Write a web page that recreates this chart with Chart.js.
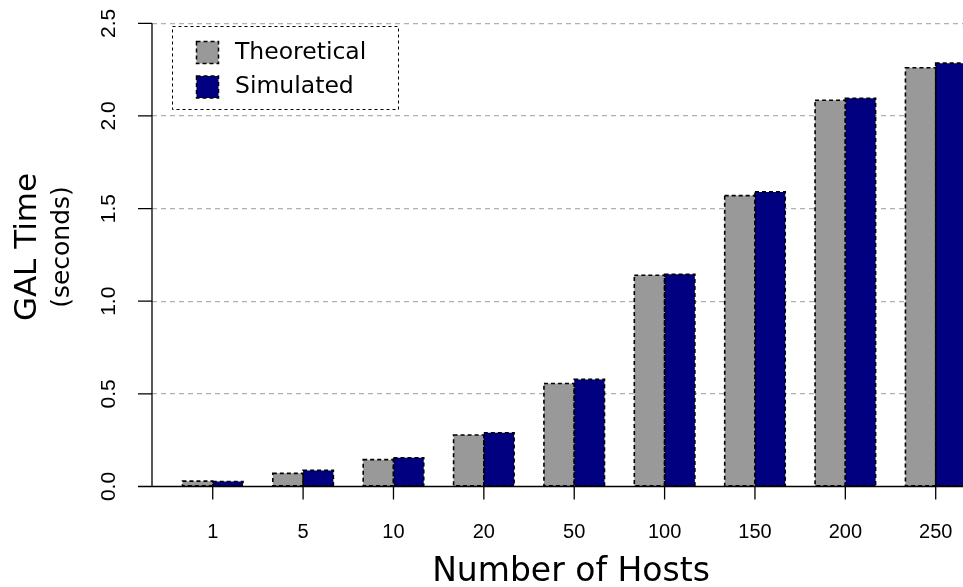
<!DOCTYPE html>
<html>
<head>
<meta charset="utf-8">
<title>GAL Time vs Number of Hosts</title>
<script src="https://cdn.jsdelivr.net/npm/chart.js@4.4.1/dist/chart.umd.min.js"></script>
<style>
  html, body { margin: 0; padding: 0; background: #ffffff; }
  canvas { display: block; }
</style>
</head>
<body>
<canvas id="chart" width="963" height="587"></canvas>
<script>
// Number of hosts (x categories)
const hosts = ['1', '5', '10', '20', '50', '100', '150', '200', '250'];
// GAL time in seconds
const theoretical = [0.029, 0.071, 0.145, 0.278, 0.556, 1.14, 1.57, 2.085, 2.26];
const simulated   = [0.027, 0.087, 0.155, 0.290, 0.578, 1.145, 1.59, 2.095, 2.285];
// Value axis range and step
const yMin = 0;
const yMax = 2.5;
const yStep = 0.5;

const GRAY = '#999999';
const NAVY = '#000080';
const TICK_FONT = '"Liberation Sans", Arial, sans-serif';
const TITLE_FONT = '"DejaVu Sans", sans-serif';

const toPoints = vals => vals.map((v, i) => ({ x: i, y: v }));

// Axes, dashed bar outlines, titles and legend drawn on top of the library's scales
const decorations = {
  id: 'decorations',
  afterDatasetsDraw(chart) {
    const ctx = chart.ctx;
    const xs = chart.scales.x;
    const ys = chart.scales.y;
    const area = chart.chartArea;
    const y0 = ys.getPixelForValue(yMin);
    const yTop = ys.getPixelForValue(yMax);

    // dashed outlines around each bar
    ctx.save();
    ctx.beginPath();
    ctx.rect(area.left, 0, area.right - area.left, chart.height);
    ctx.clip();
    ctx.strokeStyle = '#000000';
    ctx.lineWidth = 1.6;
    ctx.setLineDash([4, 3]);
    chart.data.datasets.forEach((ds, di) => {
      chart.getDatasetMeta(di).data.forEach(bar => {
        const p = bar.getProps(['x', 'y', 'base', 'width'], true);
        ctx.strokeRect(p.x - p.width / 2, p.y, p.width, p.base - p.y);
      });
    });
    ctx.restore();

    ctx.save();
    ctx.strokeStyle = '#000000';
    ctx.lineWidth = 1.3;
    ctx.setLineDash([]);
    // baseline at zero
    ctx.beginPath();
    ctx.moveTo(area.left, y0);
    ctx.lineTo(area.right, y0);
    ctx.stroke();
    // value axis line and its ticks
    ctx.beginPath();
    ctx.moveTo(area.left, y0);
    ctx.lineTo(area.left, yTop);
    ys.ticks.forEach(t => {
      const py = ys.getPixelForValue(t.value);
      ctx.moveTo(area.left, py);
      ctx.lineTo(area.left - 14, py);
    });
    // category ticks
    hosts.forEach((h, i) => {
      const px = xs.getPixelForValue(i);
      ctx.moveTo(px, y0);
      ctx.lineTo(px, y0 + 13);
    });
    ctx.stroke();

    ctx.fillStyle = '#000000';
    // category labels
    ctx.font = '20px ' + TICK_FONT;
    ctx.textAlign = 'center';
    ctx.textBaseline = 'middle';
    hosts.forEach((h, i) => {
      ctx.fillText(h, xs.getPixelForValue(i), 532);
    });
    // value labels, rotated
    ctx.font = '21px ' + TICK_FONT;
    ys.ticks.forEach(t => {
      const py = ys.getPixelForValue(t.value);
      ctx.save();
      ctx.translate(109, py);
      ctx.rotate(-Math.PI / 2);
      ctx.fillText(t.value.toFixed(1), 0, 0);
      ctx.restore();
    });

    // axis titles
    ctx.font = '33px ' + TITLE_FONT;
    ctx.textBaseline = 'alphabetic';
    ctx.fillText('Number of Hosts', 571, 581);
    ctx.font = '31px ' + TITLE_FONT;
    ctx.save();
    ctx.translate(36, 247);
    ctx.rotate(-Math.PI / 2);
    ctx.fillText('GAL Time', 0, 0);
    ctx.restore();
    ctx.font = '25px ' + TITLE_FONT;
    ctx.save();
    ctx.translate(69, 247);
    ctx.rotate(-Math.PI / 2);
    ctx.fillText('(seconds)', 0, 0);
    ctx.restore();

    // legend
    ctx.lineWidth = 1;
    ctx.setLineDash([3, 3]);
    ctx.strokeStyle = '#000000';
    ctx.strokeRect(172.5, 26.5, 226, 83);
    const rows = [58.5, 93];
    chart.data.datasets.forEach((ds, di) => {
      const base = rows[di];
      ctx.fillStyle = ds.backgroundColor;
      ctx.fillRect(196.5, base - 17, 22, 22);
      ctx.setLineDash([4, 3]);
      ctx.lineWidth = 1.5;
      ctx.strokeStyle = '#000000';
      ctx.strokeRect(196.5, base - 17, 22, 22);
      ctx.fillStyle = '#000000';
      ctx.font = '23.5px ' + TITLE_FONT;
      ctx.textAlign = 'left';
      ctx.fillText(ds.label, 235, base);
    });
    ctx.restore();
  }
};

new Chart(document.getElementById('chart'), {
  type: 'bar',
  data: {
    datasets: [
      { label: 'Theoretical', data: toPoints(theoretical), backgroundColor: GRAY, borderWidth: 0 },
      { label: 'Simulated', data: toPoints(simulated), backgroundColor: NAVY, borderWidth: 0 }
    ]
  },
  options: {
    responsive: false,
    animation: false,
    devicePixelRatio: 1,
    layout: { padding: { left: 152, right: 0, top: 23.3, bottom: 100.5 } },
    datasets: { bar: { categoryPercentage: 0.67, barPercentage: 1.0 } },
    plugins: { legend: { display: false }, tooltip: { enabled: false } },
    scales: {
      x: {
        type: 'linear',
        offset: false,
        min: -0.672,
        max: 8.302,
        afterBuildTicks: s => { s.ticks = hosts.map((h, i) => ({ value: i })); },
        afterFit: s => { s.height = 0; },
        grid: { display: false },
        border: { display: false },
        ticks: { display: false }
      },
      y: {
        min: yMin,
        max: yMax,
        afterBuildTicks: s => {
          const t = [];
          for (let v = yMin; v <= yMax + 1e-9; v += yStep) t.push({ value: +v.toFixed(2) });
          s.ticks = t;
        },
        afterFit: s => { s.width = 0; },
        grid: {
          color: c => (c.tick && c.tick.value === 0 ? 'rgba(0,0,0,0)' : '#b0b0b0'),
          lineWidth: 1.2,
          drawTicks: false
        },
        border: { display: false, dash: [5, 4] },
        ticks: { display: false }
      }
    }
  },
  plugins: [decorations]
});
</script>
</body>
</html>
